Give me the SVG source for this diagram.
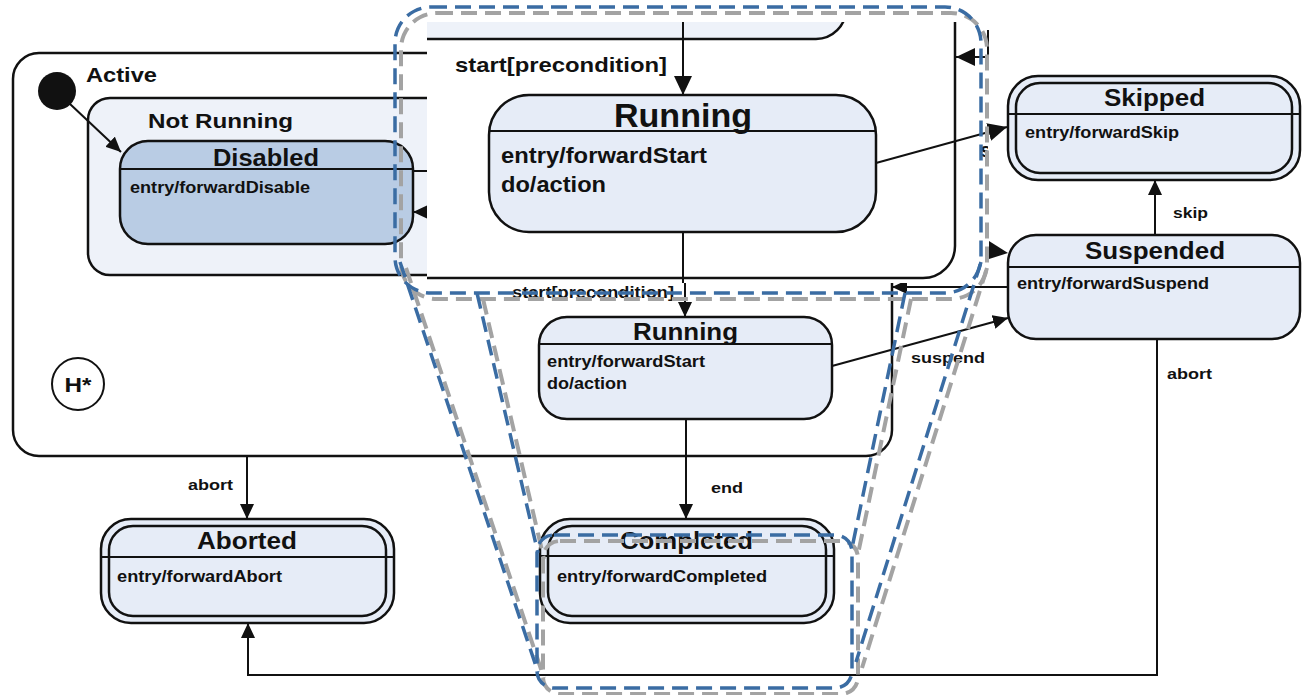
<svg xmlns="http://www.w3.org/2000/svg" width="1302" height="695" viewBox="0 0 1302 695">
<defs>
<style>
.box{stroke:#111;stroke-width:2.5}
.st{fill:#e6ecf7}
.ln{stroke:#111;stroke-width:2;fill:none}
.t{font-family:"Liberation Sans",Arial,sans-serif;font-weight:bold;fill:#111}
.dB{fill:none;stroke:#3a6ca3;stroke-width:3.5;stroke-dasharray:16 8}
.dG{fill:none;stroke:#a3a3a3;stroke-width:4;stroke-dasharray:16 8}
</style>
<marker id="arr" markerUnits="userSpaceOnUse" markerWidth="16" markerHeight="14" refX="15" refY="7" orient="auto"><path d="M0,0 L15,7 L0,14 z" fill="#111"/></marker>
<marker id="arrB" markerUnits="userSpaceOnUse" markerWidth="20" markerHeight="18" refX="19" refY="9" orient="auto"><path d="M0,0 L19,9 L0,18 z" fill="#111"/></marker>
<clipPath id="insetClip"><rect x="427" y="22" width="561" height="261"/></clipPath>
</defs>

<g id="active">
<rect class="box" x="13" y="53" width="879" height="403" rx="26" fill="#fff"/>
<text class="t" x="86" y="82" font-size="20" textLength="71" lengthAdjust="spacingAndGlyphs">Active</text>
</g>
<g id="initial"><circle cx="57" cy="91" r="19" fill="#111"/></g>
<g id="notRunning">
<rect class="box" x="88" y="98" width="720" height="177" rx="22" fill="#eef2f9"/>
<text class="t" x="148" y="128" font-size="20" textLength="145" lengthAdjust="spacingAndGlyphs">Not Running</text>
</g>
<g id="disabled">
<rect class="box" x="120" y="141" width="293" height="103" rx="28" fill="#b9cce4"/>
<line class="ln" x1="120" y1="169" x2="413" y2="169"/>
<text class="t" x="213" y="166" font-size="23" textLength="106" lengthAdjust="spacingAndGlyphs">Disabled</text>
<text class="t" x="130" y="193" font-size="16" textLength="180" lengthAdjust="spacingAndGlyphs">entry/forwardDisable</text>
</g>
<g id="history">
<circle cx="78" cy="384" r="26" fill="#fff" stroke="#111" stroke-width="2"/>
<text class="t" x="78" y="392" font-size="21" text-anchor="middle" textLength="27" lengthAdjust="spacingAndGlyphs">H*</text>
</g>
<g id="running">
<rect class="box st" x="539" y="317" width="293" height="102" rx="28"/>
<line class="ln" x1="539" y1="344" x2="832" y2="344"/>
<text class="t" x="633" y="340" font-size="23" textLength="105" lengthAdjust="spacingAndGlyphs">Running</text>
<text class="t" x="547" y="367" font-size="16" textLength="158" lengthAdjust="spacingAndGlyphs">entry/forwardStart</text>
<text class="t" x="547" y="389" font-size="16" textLength="80" lengthAdjust="spacingAndGlyphs">do/action</text>
</g>
<g id="aborted">
<rect class="box st" x="101" y="519" width="293" height="104" rx="30"/>
<rect class="box" fill="none" x="109" y="526" width="277" height="90" rx="24"/>
<line class="ln" x1="101" y1="557" x2="394" y2="557"/>
<text class="t" x="197" y="549" font-size="23" textLength="100" lengthAdjust="spacingAndGlyphs">Aborted</text>
<text class="t" x="117" y="582" font-size="16" textLength="165" lengthAdjust="spacingAndGlyphs">entry/forwardAbort</text>
</g>
<g id="completed">
<rect class="box st" x="540" y="519" width="294" height="104" rx="30"/>
<rect class="box" fill="none" x="548" y="526" width="278" height="90" rx="24"/>
<line class="ln" x1="540" y1="556" x2="834" y2="556"/>
<text class="t" x="620" y="549" font-size="23" textLength="133" lengthAdjust="spacingAndGlyphs">Completed</text>
<text class="t" x="557" y="582" font-size="16" textLength="210" lengthAdjust="spacingAndGlyphs">entry/forwardCompleted</text>
</g>
<g id="skipped">
<rect class="box st" x="1008" y="76" width="292" height="104" rx="30"/>
<rect class="box" fill="none" x="1016" y="83" width="276" height="90" rx="24"/>
<line class="ln" x1="1008" y1="114" x2="1300" y2="114"/>
<text class="t" x="1104" y="106" font-size="23" textLength="101" lengthAdjust="spacingAndGlyphs">Skipped</text>
<text class="t" x="1025" y="138" font-size="16" textLength="154" lengthAdjust="spacingAndGlyphs">entry/forwardSkip</text>
</g>
<g id="suspended">
<rect class="box st" x="1008" y="235" width="292" height="104" rx="28"/>
<line class="ln" x1="1008" y1="267" x2="1300" y2="267"/>
<text class="t" x="1085" y="259" font-size="23" textLength="140" lengthAdjust="spacingAndGlyphs">Suspended</text>
<text class="t" x="1017" y="289" font-size="16" textLength="192" lengthAdjust="spacingAndGlyphs">entry/forwardSuspend</text>
</g>

<g id="connectors">
<line class="ln" x1="70" y1="104" x2="121" y2="152" marker-end="url(#arr)"/>
<line class="ln" x1="430" y1="212" x2="413" y2="212" marker-end="url(#arr)"/>
<line class="ln" x1="413" y1="171" x2="430" y2="171"/>
<line class="ln" x1="685" y1="283" x2="685" y2="317" marker-end="url(#arr)"/>
<text class="t" x="512" y="298" font-size="16" textLength="162" lengthAdjust="spacingAndGlyphs">start[precondition]</text>
<line class="ln" x1="686" y1="419" x2="686" y2="519" marker-end="url(#arr)"/>
<text class="t" x="711" y="493" font-size="15" textLength="32" lengthAdjust="spacingAndGlyphs">end</text>
<line class="ln" x1="247" y1="456" x2="247" y2="519" marker-end="url(#arr)"/>
<text class="t" x="188" y="490" font-size="15" textLength="45" lengthAdjust="spacingAndGlyphs">abort</text>
<line class="ln" x1="832" y1="366" x2="1008" y2="318" marker-end="url(#arr)"/>
<text class="t" x="911" y="363" font-size="15" textLength="74" lengthAdjust="spacingAndGlyphs">suspend</text>
<line class="ln" x1="1155" y1="235" x2="1155" y2="180" marker-end="url(#arr)"/>
<text class="t" x="1173" y="218" font-size="15" textLength="35" lengthAdjust="spacingAndGlyphs">skip</text>
<polyline class="ln" points="1157,339 1157,675 248,675 248,623" marker-end="url(#arr)"/>
<text class="t" x="1167" y="379" font-size="15" textLength="45" lengthAdjust="spacingAndGlyphs">abort</text>
<line class="ln" x1="1008" y1="287" x2="892" y2="287" marker-end="url(#arr)"/>
<polygon points="989,241 1008,253 989,259" fill="#111"/>
</g>

<g id="inset">
<g clip-path="url(#insetClip)">
<rect x="427" y="22" width="561" height="261" fill="#fff"/>
<rect class="box" x="200" y="-300" width="755" height="578" rx="32" fill="none"/>
<rect class="box" x="200" y="-300" width="646" height="339" rx="30" fill="#eef2f9"/>
<line class="ln" stroke-width="2.5" x1="683" y1="22" x2="683" y2="95" marker-end="url(#arrB)"/>
<text class="t" x="455" y="72" font-size="21" textLength="212" lengthAdjust="spacingAndGlyphs">start[precondition]</text>
<rect class="box st" x="489" y="95" width="387" height="137" rx="40"/>
<line class="ln" stroke-width="2.5" x1="489" y1="131" x2="876" y2="131"/>
<text class="t" x="614" y="127" font-size="33" textLength="138" lengthAdjust="spacingAndGlyphs">Running</text>
<text class="t" x="501" y="163" font-size="22" textLength="206" lengthAdjust="spacingAndGlyphs">entry/forwardStart</text>
<text class="t" x="501" y="192" font-size="22" textLength="105" lengthAdjust="spacingAndGlyphs">do/action</text>
<line class="ln" stroke-width="2.5" x1="683" y1="232" x2="683" y2="290"/>
<line class="ln" stroke-width="2.5" x1="995" y1="57" x2="956" y2="57" marker-end="url(#arrB)"/>
<text class="t" x="980" y="157" font-size="21">suspend</text>
</g>
<line class="ln" stroke-width="2.5" x1="876" y1="163" x2="1007" y2="127" marker-end="url(#arrB)"/>
<line class="ln" stroke-width="1.5" x1="988" y1="30" x2="988" y2="67"/>
</g>

<g id="lens" transform="translate(6,6)">
<path class="dG" d="M431,7 H945 A36,36 0 0 1 981,43 V257 A36,36 0 0 1 945,293 H431 A36,36 0 0 1 395,257 V43 A36,36 0 0 1 431,7 Z"/>
<path class="dG" d="M554,535 H835 A17,17 0 0 1 852,552 V671 A17,17 0 0 1 835,688 H554 A17,17 0 0 1 537,671 V552 A17,17 0 0 1 554,535 Z"/>
<path class="dG" d="M400,262 L538,672 M477,293 L538,553 M905,293 L852,548 M981,262 L856,662"/>
</g>
<g id="lensBlue">
<path class="dB" d="M431,7 H945 A36,36 0 0 1 981,43 V257 A36,36 0 0 1 945,293 H431 A36,36 0 0 1 395,257 V43 A36,36 0 0 1 431,7 Z"/>
<path class="dB" d="M554,535 H835 A17,17 0 0 1 852,552 V671 A17,17 0 0 1 835,688 H554 A17,17 0 0 1 537,671 V552 A17,17 0 0 1 554,535 Z"/>
<path class="dB" d="M400,262 L538,672 M477,293 L538,553 M905,293 L852,548 M981,262 L856,662"/>
</g>
</svg>
